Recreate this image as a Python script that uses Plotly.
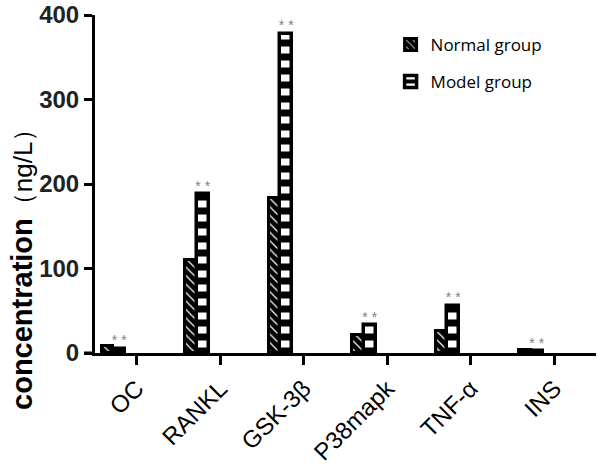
import plotly.graph_objects as go

categories = ["OC", "RANKL", "GSK-3β", "P38mapk", "TNF-α", "INS"]
normal_vals = [8, 110, 183, 21, 26, 3]
model_vals = [5, 188, 378, 33, 56, 2]
sig_labels = ["* *", "* *", "* *", "* *", "* *", "* *"]
y_ticks = [0, 100, 200, 300, 400]

idx = list(range(len(categories)))
bw = 0.14
x_norm = [i - 0.35 for i in idx]
x_mod = [i - 0.21 for i in idx]

fig = go.Figure()
fig.add_trace(go.Bar(
    x=x_norm, y=normal_vals, width=bw, name="Normal group", legendgroup="a",
    marker=dict(color="black", line=dict(color="black", width=3),
                pattern=dict(shape="\\", fgcolor="white", bgcolor="black", size=6,
                             solidity=0.2, fgopacity=1)),
))
fig.add_trace(go.Bar(
    x=x_mod, y=model_vals, width=bw, name="Model group", legendgroup="b",
    marker=dict(color="black", line=dict(color="black", width=3.5),
                pattern=dict(shape="-", fgcolor="white", bgcolor="black", size=14,
                             solidity=0.5, fgopacity=1)),
))
fig.add_trace(go.Scatter(
    x=x_mod, y=model_vals, mode="text", text=sig_labels, textposition="top center",
    textfont=dict(color="#808080", size=14, family="Liberation Sans"), showlegend=False,
    cliponaxis=False,
))

fig.add_annotation(
    text="<b>concentration</b><span style='font-size:26px'>（ng/L）</span>",
    xref="paper", yref="paper", x=-0.146, y=0.266, textangle=-90,
    showarrow=False, font=dict(size=29, family="Liberation Sans", color="black"),
    xanchor="center", yanchor="middle",
)

fig.add_shape(type="line", xref="paper", yref="paper", x0=-0.022, x1=0, y0=0, y1=0,
              line=dict(color="black", width=3))

fig.update_layout(
    width=600, height=472,
    margin=dict(l=95, r=4, t=15, b=119, autoexpand=False),
    paper_bgcolor="white", plot_bgcolor="white",
    barmode="overlay", bargap=0,
    showlegend=True,
    legend=dict(x=0.59, y=0.965, xanchor="left", yanchor="top",
                font=dict(size=17, family="Open Sans", color="black"),
                tracegroupgap=12, bgcolor="rgba(0,0,0,0)"),
    xaxis=dict(
        range=[-0.5, 5.5], tickvals=idx, ticktext=categories, tickangle=-45,
        showline=True, linecolor="black", linewidth=3, ticks="outside",
        ticklen=9, tickwidth=3, tickcolor="black", showgrid=False, zeroline=False,
        automargin=False,
        tickfont=dict(size=24, family="Liberation Sans", color="black"),
    ),
    yaxis=dict(
        range=[0, 400], tickvals=y_ticks, showline=True, linecolor="black",
        linewidth=3, ticks="outside", ticklen=8, tickwidth=3, tickcolor="black",
        showgrid=False, zeroline=False, automargin=False,
        tickfont=dict(size=24, family="Liberation Sans", color="#222222", weight="bold"),
    ),
)

fig.write_html("out.html", config={"displayModeBar": False},
               post_script="document.body.style.margin='0px';")
